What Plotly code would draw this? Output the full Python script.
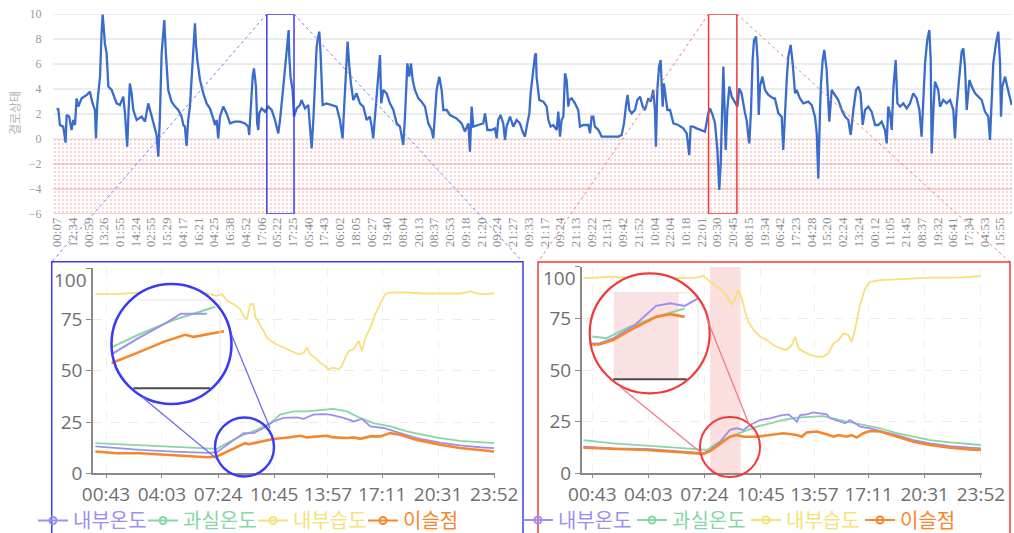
import plotly.graph_objects as go

W, H = 1014, 533
def PX(x): return x / W
def PY(y): return 1 - y / H

# ---------------- DATA ----------------
top_labels = ["00:07","12:34","00:59","13:26","01:55","14:24","02:55","15:29","04:17","16:21",
              "04:25","16:38","04:52","17:06","05:22","17:25","05:40","17:43","06:02","18:05",
              "06:27","19:40","08:04","20:13","08:37","20:53","09:18","21:20","09:24","21:27",
              "09:33","21:17","09:24","21:13","09:22","21:31","09:42","21:52","10:04","22:04",
              "10:18","22:01","09:30","20:45","08:15","19:34","06:42","17:23","04:28","15:20",
              "02:24","13:24","00:12","11:05","21:45","08:37","19:32","06:41","17:34","04:53","15:55"]

top_idx = [
 0.00,0.08,0.19,0.40,0.55,0.62,0.78,0.93,1.04,1.15,
 1.25,1.36,1.57,1.89,2.10,2.27,2.42,2.48,2.57,2.74,
 2.84,2.91,2.99,3.05,3.16,3.27,3.48,3.69,3.80,4.01,
 4.22,4.33,4.43,4.47,4.56,4.64,4.75,4.86,5.07,5.39,
 5.60,5.81,5.92,6.13,6.34,6.45,6.55,6.66,6.76,6.83,
 6.93,7.08,7.29,7.51,7.72,7.93,8.04,8.14,8.25,8.35,
 8.46,8.57,8.67,8.78,8.84,8.93,9.10,9.31,9.52,9.73,
 9.94,10.05,10.16,10.26,10.37,10.58,10.79,11.01,11.32,11.64,
 11.96,12.17,12.23,12.32,12.45,12.53,12.66,12.74,12.81,12.87,
 13.02,13.23,13.44,13.66,13.87,14.08,14.19,14.40,14.57,14.67,
 14.74,14.78,14.86,14.99,15.08,
 15.25,15.46,15.56,15.78,15.99,16.09,16.20,16.31,16.41,16.52,
 16.62,16.69,16.77,16.84,16.90,17.15,17.47,17.79,18.00,18.17,
 18.26,18.38,18.49,18.60,18.70,18.85,19.06,19.27,19.49,19.70,
 19.91,20.02,20.12,20.23,20.38,20.55,20.63,20.76,20.97,21.18,
 21.40,21.61,21.82,22.03,22.14,22.29,22.41,22.52,22.63,22.77,
 22.99,23.20,23.41,23.62,23.83,23.94,24.05,24.15,24.32,24.47,
 24.58,24.79,25.00,25.42,25.74,25.95,26.17,26.27,26.38,26.48,
 26.80,27.12,27.23,27.38,27.65,27.86,27.97,28.07,28.22,28.39,
 28.50,28.60,28.82,29.03,29.24,29.45,29.66,29.77,29.92,30.05,
 30.13,30.26,30.41,
 30.47,30.51,30.68,30.94,31.15,31.26,31.40,31.57,31.79,31.89,
 32.00,32.10,32.21,32.32,32.42,32.53,32.59,32.74,32.95,33.16,
 33.27,33.48,33.80,33.91,34.01,34.12,34.22,34.44,34.65,34.97,
 35.39,35.71,35.92,36.07,36.20,36.30,36.41,36.56,36.77,36.92,
 37.09,37.26,37.40,37.62,37.77,37.93,38.04,38.10,38.19,38.30,
 38.40,38.53,38.61,38.74,38.83,39.00,39.21,39.52,39.84,40.06,
 40.22,40.31,40.48,40.69,41.01,41.22,41.43,41.54,41.71,41.86,
 42.01,42.13,42.22,42.30,42.39,42.47,42.54,42.64,42.77,42.92,
 43.13,43.28,43.40,43.55,43.77,43.87,43.98,44.04,44.15,44.25,
 44.34,44.47,44.57,44.64,44.72,44.87,45.04,45.25,45.57,
 45.67,45.89,46.10,46.20,46.31,46.42,46.52,46.67,46.80,46.95,
 47.05,47.26,47.48,47.79,48.01,48.22,48.33,48.43,48.54,48.60,
 48.71,48.81,48.96,49.07,49.13,49.28,49.49,49.70,49.92,50.13,
 50.34,50.49,50.66,50.83,50.98,51.12,51.25,51.40,51.61,51.82,
 52.04,52.25,52.46,52.67,52.78,52.88,52.99,53.10,53.20,53.35,
 53.46,53.63,53.84,54.05,54.26,54.47,54.69,54.86,55.00,55.11,
 55.22,55.36,55.49,55.58,55.64,55.75,55.85,56.06,56.17,56.38,
 56.59,56.81,57.02,57.12,57.23,57.40,57.55,57.65,57.76,57.87,
 58.04,58.19,58.40,58.61,58.82,59.03,59.24,59.35,59.46,59.56,
 59.73,59.88,59.99,60.05,60.13,60.31,60.45,60.58,60.73]

top_val = [
 2.32,2.45,1.12,0.99,-0.29,1.92,1.79,0.72,1.52,1.12,
 3.25,2.59,3.25,3.52,3.79,2.85,2.32,0.05,2.85,4.99,
 8.45,9.95,8.72,7.65,6.85,4.19,3.92,3.12,2.85,2.72,
 3.39,2.05,0.59,-0.61,2.32,4.45,3.65,2.32,1.52,1.79,
 1.39,2.85,2.32,1.25,0.32,-1.41,1.79,6.85,8.72,9.52,
 6.85,3.92,2.99,2.59,2.32,1.79,1.12,0.99,-0.56,1.52,
 2.59,4.99,7.65,9.25,7.65,6.32,4.72,3.65,2.85,2.45,
 1.65,1.12,1.52,0.05,1.79,2.59,2.05,1.25,1.39,1.39,
 1.25,0.99,0.32,2.32,4.99,5.65,4.19,1.25,0.72,2.05,
 2.45,2.19,2.59,2.32,1.52,0.45,1.52,4.19,6.59,8.19,
 8.72,6.59,4.99,3.92,1.79,
 2.45,2.72,3.12,2.45,2.72,0.99,-0.75,1.52,4.99,7.39,
 8.19,8.59,6.85,4.99,2.72,2.85,2.72,2.59,1.52,0.05,
 2.32,4.99,7.79,5.79,4.45,3.12,3.65,2.85,2.59,1.52,
 1.79,0.99,0.05,1.79,3.92,6.72,2.85,3.92,3.65,2.85,
 2.32,1.25,0.99,-0.48,1.79,6.05,4.99,6.05,4.72,3.92,
 3.25,2.99,2.59,1.25,0.72,0.05,2.05,3.92,4.99,3.92,
 2.32,2.32,1.92,1.65,1.25,0.59,1.25,-1.01,2.59,0.99,
 1.12,1.25,2.05,0.72,0.72,0.85,0.05,1.52,1.92,1.25,
 -0.08,0.99,1.79,0.99,1.52,1.25,0.45,0.19,1.25,2.05,
 3.65,5.25,6.72,
 6.85,4.99,3.12,2.99,2.59,1.52,0.99,1.12,0.72,2.19,
 0.19,1.52,1.79,5.25,4.72,2.59,3.12,3.25,2.85,2.32,
 0.99,1.12,1.12,0.45,1.79,1.79,0.99,0.72,0.19,0.19,
 0.19,0.19,0.32,1.25,2.72,3.52,2.32,2.05,2.32,3.12,
 3.39,2.59,2.32,3.25,2.99,3.92,2.32,-0.61,3.92,5.79,
 6.32,2.59,4.45,2.99,2.32,2.32,1.25,1.12,0.85,0.45,
 -1.28,0.99,0.99,0.85,0.72,0.59,2.05,2.45,1.92,1.25,
 -0.88,-4.08,-1.95,1.52,5.79,2.32,-0.88,2.32,4.19,3.39,
 2.85,2.59,4.05,3.65,2.05,1.52,0.19,-0.35,2.32,6.32,
 7.92,8.19,6.32,1.92,4.19,4.99,3.92,3.52,3.25,
 3.25,2.05,1.79,-0.88,2.32,4.72,6.59,7.52,6.05,3.65,
 3.92,3.25,2.85,2.99,2.72,1.79,0.45,-3.15,2.32,4.45,
 6.32,7.12,5.52,2.59,1.39,3.92,3.52,3.12,2.32,1.79,
 1.52,0.32,2.32,3.92,4.19,3.65,1.12,2.32,2.59,2.19,
 1.12,1.12,1.39,0.72,-0.35,2.59,2.05,0.72,3.92,6.32,
 2.85,2.59,2.85,2.45,2.85,3.65,3.25,2.32,0.19,3.65,
 6.05,7.92,8.72,6.32,-1.15,2.32,4.59,3.92,2.59,3.12,
 2.85,3.12,2.32,0.05,2.59,4.99,6.99,7.25,5.79,2.32,
 4.72,4.19,3.65,3.39,3.12,2.19,1.79,-0.08,3.65,6.05,
 7.65,8.59,6.05,1.79,4.19,4.99,4.19,3.52,2.72]

top_yticks = [-6, -4, -2, 0, 2, 4, 6, 8, 10]
warn_levels = [-2, -4, -6]          # red grid lines inside the condensation zone
zone = (-6, 0)                      # condensation zone (dotted pink)
blue_window = (13.35, 15.08)        # day shown in left panel
red_window = (41.45, 43.25)         # day shown in right panel

bottom_tick_min = [43, 243, 444, 645, 837, 1031, 1231, 1432]
bottom_tick_text = ["00:43","04:03","07:24","10:45","13:57","17:11","20:31","23:52"]
bottom_yticks = [0, 25, 50, 75, 100]

names = ["내부온도", "과실온도", "내부습도", "이슬점"]
colors = ["#9c8ff0", "#86d6a6", "#f7df7a", "#f7862b"]

# left panel (blue day)
L_purple_t = [5,166,285,404,440,476,512,535,571,607,642,678,726,750,785,821,845,869,893,929,959,989,1036,1096,1155,1238,1310,1381,1432]
L_purple_v = [13.1,11.4,10.6,10.0,10.3,13.9,17.2,19.6,19.6,22.1,25.3,27.0,27.3,26.6,28.6,28.9,28.6,27.8,27.0,25.3,26.5,22.9,22.1,19.6,17.2,15.0,13.6,12.7,12.3]
L_green_t = [5,166,285,404,440,476,523,583,631,666,714,762,821,857,905,952,1000,1060,1119,1179,1238,1310,1381,1432]
L_green_v = [14.7,13.6,12.9,12.3,11.9,14.7,18.0,21.2,24.5,28.6,30.2,30.2,31.0,31.4,30.2,27.0,24.5,22.9,20.4,18.8,17.2,15.8,15.0,14.7]
L_yellow_t = [5,82,166,285,404,440,458,476,500,523,538,547,559,571,577,583,595,607,619,642,
              666,690,714,732,750,762,774,791,809,827,839,857,875,887,899,911,929,947,959,971,
              989,1006,1024,1042,1060,1119,1179,1238,1310,1346,1381,1432]
L_yellow_v = [87.4,87.4,88.2,87.4,87.7,86.6,87.4,84.2,82.5,80.1,76.0,75.2,82.5,82.5,76.0,75.2,71.9,69.4,66.2,63.7,
              62.1,60.5,58.8,58.0,58.8,61.3,58.0,56.4,53.9,52.3,50.7,51.5,50.7,52.3,56.4,59.6,60.5,64.5,59.6,66.2,
              71.1,77.6,82.5,87.4,88.2,88.2,87.7,87.7,87.7,88.7,87.4,87.7]
L_orange_t = [5,82,166,285,404,440,476,512,541,553,595,642,702,738,762,833,857,905,929,952,989,1024,1060,1096,1155,1238,1310,1381,1432]
L_orange_v = [10.6,9.8,9.8,8.7,7.8,8.2,10.6,13.1,14.7,14.2,15.5,16.7,17.6,18.3,17.5,18.3,17.5,17.2,17.5,16.8,18.0,18.0,19.6,18.8,16.3,13.9,12.3,11.4,10.6]

# right panel (red day)
R_purple_t = [11,118,237,357,416,440,464,500,535,559,583,607,643,678,714,744,762,774,786,809,
              833,857,881,893,911,929,947,964,982,1000,1036,1084,1131,1191,1250,1322,1393,1432]
R_purple_v = [12.9,12.1,11.8,10.5,9.7,9.7,11.3,15.3,21.0,21.8,21.0,23.4,25.8,26.6,27.9,28.5,26.6,25.0,28.2,28.5,
              29.5,29.0,28.5,26.6,25.8,25.0,24.2,25.8,24.2,22.6,21.8,20.2,18.5,16.1,14.5,13.2,12.4,12.1]
R_green_t = [11,118,237,357,428,452,488,535,583,631,678,726,774,833,869,905,952,1012,1072,1131,1191,1250,1322,1393,1432]
R_green_v = [16.1,14.5,13.4,12.4,11.8,11.3,14.5,17.7,20.2,22.6,24.2,25.8,26.9,27.4,27.7,26.6,25.0,23.4,21.8,19.4,17.7,16.1,15.0,14.0,13.7]
R_yellow_t = [11,59,118,178,237,297,357,416,440,464,488,512,529,541,553,565,577,589,601,619,
              643,666,690,714,738,756,768,780,798,821,845,869,887,905,923,941,958,970,982,1000,
              1018,1036,1072,1131,1191,1250,1310,1370,1432]
R_yellow_v = [94.4,94.7,95.2,94.4,95.2,94.4,94.4,94.7,95.6,92.7,90.3,87.9,84.7,81.5,84.7,88.7,84.7,78.2,73.4,69.4,
              66.1,64.5,62.1,60.5,59.7,62.1,66.1,60.5,58.9,57.3,56.5,56.5,58.1,62.9,64.5,67.7,66.9,63.7,69.4,81.5,
              89.5,92.7,93.5,94.0,94.4,94.7,94.7,94.8,95.5]
R_orange_t = [11,118,237,357,416,440,464,500,535,559,583,631,678,726,774,792,809,845,881,905,
              923,952,970,988,1012,1036,1072,1131,1191,1250,1322,1393,1432]
R_orange_v = [12.4,11.8,11.3,10.2,9.4,9.4,10.8,14.5,17.7,18.5,17.7,17.7,18.5,19.4,18.5,17.7,19.8,20.2,18.9,17.7,
              18.5,17.7,18.5,17.3,19.4,20.5,20.2,17.7,15.3,13.7,12.4,11.6,11.3]

alert_band = (464, 573)   # shaded period on the red day (minutes)

# zoom windows (minutes) shown in the magnifier circles
L_zoom = (400, 600)
R_zoom = (400, 615)

# ---------------- GEOMETRY ----------------
TOP_XR = [-0.25, 60.75]
TOP_PX = (53, 1012)
def top_px(xv):
    return TOP_PX[0] + (xv - TOP_XR[0]) / (TOP_XR[1] - TOP_XR[0]) * (TOP_PX[1] - TOP_PX[0])

L_XR = [-3.5, 1433]
R_XR = [5, 1436]
INSET_L_XR, INSET_L_YR = [438.6, 605.5], [-1.4, 26.5]
INSET_R_XR, INSET_R_YR = [423.7, 625.0], [-5.3, 30.8]
INSET_R_FRAME = (-1.3, 25.2)

BLUE = "#3b3bf2"
RED = "#f23a3a"

fig = go.Figure()

fig.add_trace(go.Scatter(
    x=[TOP_XR[0], TOP_XR[1], TOP_XR[1], TOP_XR[0], TOP_XR[0]],
    y=[zone[1], zone[1], zone[0], zone[0], zone[1]],
    fill="toself", mode="none", fillcolor="rgba(0,0,0,0)",
    fillpattern=dict(shape=".", fgcolor="#f5aaaa", size=4, solidity=0.25),
    hoverinfo="skip", showlegend=False, xaxis="x", yaxis="y"))

fig.add_trace(go.Scatter(x=top_idx, y=top_val, mode="lines",
                         line=dict(color="#3a6ccc", width=2.3),
                         showlegend=False, xaxis="x", yaxis="y"))

def add_panel(series, xa, ya):
    order = [1, 0, 2, 3]
    for i in order:
        t, v = series[i]
        fig.add_trace(go.Scatter(x=t, y=v, mode="lines",
                                 line=dict(color=colors[i], width=2.6 if i == 3 else 1.8),
                                 showlegend=False, xaxis=xa, yaxis=ya, hoverinfo="skip"))

L_series = [(L_purple_t, L_purple_v), (L_green_t, L_green_v), (L_yellow_t, L_yellow_v), (L_orange_t, L_orange_v)]
R_series = [(R_purple_t, R_purple_v), (R_green_t, R_green_v), (R_yellow_t, R_yellow_v), (R_orange_t, R_orange_v)]
add_panel(L_series, "x2", "y2")
add_panel(R_series, "x3", "y3")

for lg, xa, ya in [("legend", "x2", "y2"), ("legend2", "x3", "y3")]:
    for i in range(4):
        fig.add_trace(go.Scatter(
            x=[None], y=[None], mode="lines+markers",
            name=f'<span style="color:{colors[i]}">{names[i]}</span>',
            line=dict(color=colors[i], width=2),
            marker=dict(symbol="circle-open", size=7, color=colors[i], line=dict(width=2)),
            legend=lg, xaxis=xa, yaxis=ya))

def add_inset(series, win, xa, ya):
    for i in [1, 0, 3]:
        t, v = series[i]
        tt = [a for a in t if win[0] <= a <= win[1]]
        vv = [b for a, b in zip(t, v) if win[0] <= a <= win[1]]
        fig.add_trace(go.Scatter(x=tt, y=vv, mode="lines",
                                 line=dict(color=colors[i], width=2.6 if i == 3 else 2),
                                 showlegend=False, xaxis=xa, yaxis=ya, hoverinfo="skip"))

add_inset(L_series, L_zoom, "x4", "y4")
add_inset(R_series, R_zoom, "x5", "y5")

# ---------------- SHAPES ----------------
shapes = []
for g in top_yticks:
    if g >= 0:
        shapes.append(dict(type="line", xref="x", yref="y", x0=TOP_XR[0], x1=TOP_XR[1], y0=g, y1=g,
                           line=dict(color="#d8d8d8", width=1), layer="below"))
for g in warn_levels:
    shapes.append(dict(type="line", xref="x", yref="y", x0=TOP_XR[0], x1=TOP_XR[1], y0=g, y1=g,
                       line=dict(color="#f2a4a4", width=1), layer="below"))
for win, col in [(blue_window, BLUE), (red_window, RED)]:
    shapes.append(dict(type="rect", xref="x", yref="y", x0=win[0], x1=win[1], y0=-6, y1=10,
                       line=dict(color=col, width=1.5), layer="above"))

for (px0, px1, col) in [(top_px(blue_window[0]), 51.7, "#7b7bf2"), (top_px(blue_window[1]), 523, "#7b7bf2"),
                        (top_px(red_window[0]), 538, "#f28080"), (top_px(red_window[1]), 1010, "#f28080")]:
    shapes.append(dict(type="line", xref="paper", yref="paper", x0=PX(px0), y0=PY(14), x1=PX(px1), y1=PY(262),
                       line=dict(color=col, width=1, dash="dot"), layer="above"))

shapes.append(dict(type="rect", xref="paper", yref="paper", x0=PX(51.7), x1=PX(523), y0=PY(545), y1=PY(261.7),
                   line=dict(color=BLUE, width=1.5), layer="above"))
shapes.append(dict(type="rect", xref="paper", yref="paper", x0=PX(538), x1=PX(1010), y0=PY(545), y1=PY(262),
                   line=dict(color=RED, width=1.5), layer="above"))

shapes.append(dict(type="rect", xref="x3", yref="y3", x0=alert_band[0], x1=alert_band[1], y0=0, y1=100,
                   fillcolor="rgba(242,150,150,0.30)", line=dict(width=0), layer="below"))

shapes.append(dict(type="circle", xref="x4", yref="y4", x0=INSET_L_XR[0], x1=INSET_L_XR[1],
                   y0=INSET_L_YR[0], y1=INSET_L_YR[1], fillcolor="white", line=dict(width=0), layer="below"))
shapes.append(dict(type="circle", xref="x5", yref="y5", x0=INSET_R_XR[0], x1=INSET_R_XR[1],
                   y0=INSET_R_YR[0], y1=INSET_R_YR[1], fillcolor="white", line=dict(width=0), layer="below"))
shapes.append(dict(type="rect", xref="x5", yref="y5", x0=alert_band[0], x1=alert_band[1],
                   y0=INSET_R_FRAME[0], y1=INSET_R_FRAME[1],
                   fillcolor="rgba(242,150,150,0.28)", line=dict(width=0), layer="below"))

for (x0, y0, x1, y1) in [(138, 300, 220, 300), (220, 300, 220, 388), (613, 292.7, 698, 292.7), (698, 292.7, 698, 380)]:
    shapes.append(dict(type="line", xref="paper", yref="paper", x0=PX(x0), y0=PY(y0), x1=PX(x1), y1=PY(y1),
                       line=dict(color="#e4e4e4", width=1), layer="above"))
shapes.append(dict(type="line", xref="paper", yref="paper", x0=PX(133.3), y0=PY(388.3), x1=PX(210), y1=PY(388.3),
                   line=dict(color="#4a4a4a", width=2), layer="above"))
shapes.append(dict(type="line", xref="paper", yref="paper", x0=PX(613.3), y0=PY(379.3), x1=PX(686.7), y1=PY(379.3),
                   line=dict(color="#4a4a4a", width=2), layer="above"))

def circ(cx, cy, r, col, w):
    return dict(type="circle", xref="paper", yref="paper", x0=PX(cx - r), x1=PX(cx + r),
                y0=PY(cy + r), y1=PY(cy - r), line=dict(color=col, width=w), layer="above")
shapes += [circ(171.5, 344, 60, BLUE, 2.6), circ(244.5, 447, 29.5, BLUE, 2.4),
           circ(649.7, 333.3, 60, RED, 2.2), circ(730, 447, 30, RED, 2.0)]
for (x0, y0, x1, y1, col) in [(141.7, 396.7, 216, 458.3, "#6d6df0"), (231.7, 335, 270, 428.3, "#6d6df0"),
                              (620, 386.7, 701.7, 453.3, "#f07a8a"), (706.7, 318.3, 750, 426.7, "#f07a8a")]:
    shapes.append(dict(type="line", xref="paper", yref="paper", x0=PX(x0), y0=PY(y0), x1=PX(x1), y1=PY(y1),
                       line=dict(color=col, width=1.3), layer="above"))

# ---------------- LAYOUT ----------------
num_font = dict(family="Open Sans", size=19, color="#6e6e6e")
def bottom_x(dom, rng, anchor):
    return dict(domain=dom, range=rng, anchor=anchor, tickmode="array", tickvals=bottom_tick_min,
                ticktext=bottom_tick_text, tickangle=0, tickfont=num_font, ticks="outside", ticklen=3,
                tickcolor="#8a8a8a", showline=True, linecolor="#8a8a8a", linewidth=1.5,
                showgrid=True, gridcolor="#f1f1f1", griddash="dash", zeroline=False, fixedrange=True,
                automargin=False)
def bottom_y(dom, anchor):
    return dict(domain=dom, range=[0, 100], anchor=anchor, tickmode="array", tickvals=bottom_yticks,
                ticktext=["0", "25", "50", "75", ""], tickfont=num_font, ticks="outside", ticklen=5,
                tickcolor="#8a8a8a", showline=True, linecolor="#8a8a8a", linewidth=1.5,
                showgrid=True, gridcolor="#ebebeb", griddash="dash", zeroline=False, fixedrange=True,
                automargin=False)
hidden = dict(visible=False, showgrid=False, zeroline=False, fixedrange=True)

fig.update_layout(
    width=W, height=H, margin=dict(l=0, r=0, t=0, b=0, pad=0, autoexpand=False),
    paper_bgcolor="white", plot_bgcolor="rgba(0,0,0,0)",
    xaxis=dict(domain=[PX(TOP_PX[0]), PX(TOP_PX[1])], range=TOP_XR, anchor="y",
               tickmode="array", tickvals=list(range(len(top_labels))), ticktext=top_labels,
               tickangle=-90, tickfont=dict(family="Liberation Serif", size=13, color="#8e8e8e"),
               showgrid=False, zeroline=False, showline=False, ticks="", fixedrange=True, automargin=False),
    yaxis=dict(domain=[PY(214), PY(14)], range=[-6, 10], anchor="x", tickmode="array", tickvals=top_yticks,
               tickfont=dict(family="Liberation Serif", size=12, color="#9a9a9a"),
               showgrid=False, zeroline=False, showline=False, ticks="outside", ticklen=8,
               tickcolor="rgba(0,0,0,0)", fixedrange=True, automargin=False),
    xaxis2=bottom_x([PX(93), PX(494.5)], L_XR, "y2"),
    yaxis2=bottom_y([PY(473.3), PY(268.3)], "x2"),
    xaxis3=bottom_x([PX(581.7), PX(982)], R_XR, "y3"),
    yaxis3=bottom_y([PY(473.3), PY(266.7)], "x3"),
    xaxis4=dict(domain=[PX(111.5), PX(231.5)], range=INSET_L_XR, anchor="y4", **hidden),
    yaxis4=dict(domain=[PY(404), PY(284)], range=INSET_L_YR, anchor="x4", **hidden),
    xaxis5=dict(domain=[PX(589.7), PX(709.7)], range=INSET_R_XR, anchor="y5", **hidden),
    yaxis5=dict(domain=[PY(393.3), PY(273.3)], range=INSET_R_YR, anchor="x5", **hidden),
    legend=dict(x=PX(33), y=PY(520.5), xanchor="left", yanchor="middle", orientation="h",
                font=dict(family="Noto Sans CJK KR", size=20), itemwidth=30, entrywidth=65,
                bgcolor="rgba(0,0,0,0)"),
    legend2=dict(x=PX(518), y=PY(520), xanchor="left", yanchor="middle", orientation="h",
                 font=dict(family="Noto Sans CJK KR", size=20), itemwidth=30, entrywidth=69,
                 bgcolor="rgba(0,0,0,0)"),
    shapes=shapes,
    annotations=[
        dict(text="결로상태", x=PX(15), y=PY(113), xref="paper", yref="paper", showarrow=False,
             xanchor="center", yanchor="middle",
             textangle=-90, font=dict(family="Noto Sans CJK KR", size=12, color="#b3b3b3")),
        dict(text="100", x=PX(89), y=PY(280), xref="paper", yref="paper", showarrow=False,
             xanchor="right", yanchor="middle", font=num_font),
        dict(text="100", x=PX(578), y=PY(278), xref="paper", yref="paper", showarrow=False,
             xanchor="right", yanchor="middle", font=num_font),
    ],
)

assert len(top_idx) == len(top_val)
fig.write_html("out.html", config={"displayModeBar": False},
               post_script="document.body.style.margin='0px';document.body.style.overflow='hidden';")
